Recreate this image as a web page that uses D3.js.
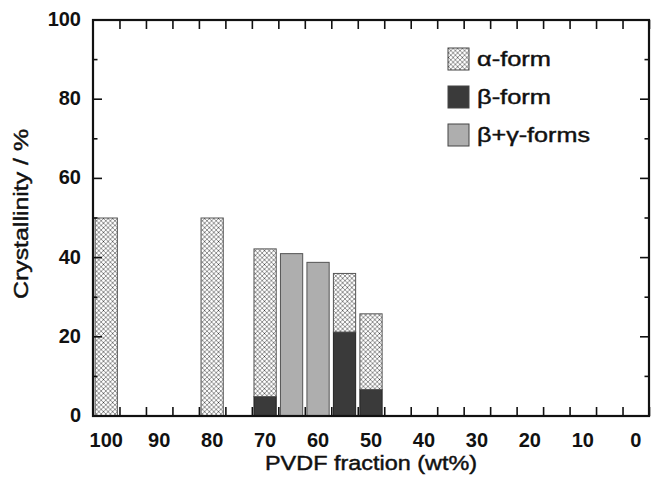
<!DOCTYPE html>
<html>
<head>
<meta charset="utf-8">
<script src="https://cdn.jsdelivr.net/npm/d3@7/dist/d3.min.js"></script>
<style>
  html, body { margin: 0; padding: 0; background: #fff; }
  svg { display: block; font-family: "Liberation Sans", Arial, sans-serif; }
</style>
</head>
<body>
<svg id="chart" width="651" height="479"></svg>
<script>
// ---- data ----
const fractions = [100, 80, 70, 65, 60, 55, 50];          // PVDF fraction (wt%)
const alphaForm = [50, 50, 37.3, 0, 0, 14.8, 19.1];        // α-form part (stacked on top of β)
const betaForm = [0, 0, 4.9, 0, 0, 21.2, 6.7];             // β-form part
const betaGammaForms = [0, 0, 0, 41.0, 38.8, 0, 0];         // β+γ-forms
const xTickLabels = [100, 90, 80, 70, 60, 50, 40, 30, 20, 10, 0];
const yTickLabels = [0, 20, 40, 60, 80, 100];
const seriesNames = ["α-form", "β-form", "β+γ-forms"];

(function () {
const svg = d3.select("#chart");
const mL = 93, mR = 649, mT = 20, mB = 416;
const x = d3.scaleLinear().domain([102.5, -2.5]).range([mL, mR]);
const y = d3.scaleLinear().domain([0, 100]).range([mB, mT]);
const barW = 4.2; // in data units

const defs = svg.append("defs");
const P = 4.6;
const pat = defs.append("pattern").attr("id", "hatch")
  .attr("patternUnits", "userSpaceOnUse").attr("width", P).attr("height", P);
pat.append("rect").attr("width", P).attr("height", P).attr("fill", "#fff");
pat.append("path").attr("d", `M0,0L${P},${P}M${P},0L0,${P}`)
  .attr("stroke", "#4a4a4a").attr("stroke-width", 0.6);
pat.append("circle").attr("cx", P / 2).attr("cy", P / 2).attr("r", 0.6).attr("fill", "#333");

const rows = fractions.map((f, i) => ({ f, beta: betaForm[i], bg: betaGammaForms[i], alpha: alphaForm[i] }));
const stack = d3.stack().keys(["beta", "bg", "alpha"])(rows);
const fills = { beta: "#3a3a3a", bg: "#aeaeae", alpha: "url(#hatch)" };
const strokes = { beta: "#222", bg: "#555", alpha: "#555" };

stack.forEach(layer => {
  svg.append("g").selectAll("rect")
    .data(layer.filter(d => d[1] - d[0] > 0))
    .join("rect")
    .attr("x", d => x(d.data.f + barW / 2))
    .attr("width", d => x(d.data.f - barW / 2) - x(d.data.f + barW / 2))
    .attr("y", d => y(d[1]))
    .attr("height", d => y(d[0]) - y(d[1]))
    .attr("fill", fills[layer.key])
    .attr("stroke", strokes[layer.key])
    .attr("stroke-width", 1);
});

const tickVals = d3.range(0, 21).map(i => 97.5 - 5 * i);
const axisCol = "#111";
svg.append("g").attr("transform", `translate(0,${mB})`)
  .call(d3.axisBottom(x).tickValues(tickVals).tickSize(-9).tickFormat(""))
  .call(g => g.select(".domain").remove())
  .call(g => g.selectAll("line").attr("stroke", axisCol).attr("stroke-width", 1.6));
svg.append("g").attr("transform", `translate(0,${mT})`)
  .call(d3.axisTop(x).tickValues(tickVals).tickSize(-9).tickFormat(""))
  .call(g => g.select(".domain").remove())
  .call(g => g.selectAll("line").attr("stroke", axisCol).attr("stroke-width", 1.6));
const yMinor = d3.range(10, 100, 20);
[[mL, 1], [mR, -1]].forEach(([px, dir]) => {
  const g = svg.append("g");
  g.selectAll(".maj").data(yTickLabels).join("line")
    .attr("x1", px).attr("x2", px + dir * 9)
    .attr("y1", d => y(d)).attr("y2", d => y(d))
    .attr("stroke", axisCol).attr("stroke-width", 1.6);
  g.selectAll(".min").data(yMinor).join("line")
    .attr("x1", px).attr("x2", px + dir * 4.5)
    .attr("y1", d => y(d)).attr("y2", d => y(d))
    .attr("stroke", axisCol).attr("stroke-width", 1.6);
});

svg.append("rect").attr("x", mL).attr("y", mT)
  .attr("width", mR - mL).attr("height", mB - mT)
  .attr("fill", "none").attr("stroke", axisCol).attr("stroke-width", 2.2);

svg.append("g").selectAll("text").data(xTickLabels).join("text")
  .attr("x", d => x(d)).attr("y", 447)
  .attr("text-anchor", "middle").attr("font-size", 20).attr("font-weight", "bold")
  .attr("fill", "#111").text(d => d);
svg.append("g").selectAll("text").data(yTickLabels).join("text")
  .attr("x", 81).attr("y", d => y(d) + 6)
  .attr("text-anchor", "end").attr("font-size", 20).attr("font-weight", "bold")
  .attr("fill", "#111").text(d => d);

const heavy = sel => sel.attr("fill", "#111").attr("stroke", "#111").attr("stroke-width", 0.45);
svg.append("text").attr("x", 371).attr("y", 470)
  .attr("text-anchor", "middle").attr("font-size", 20.5)
  .attr("textLength", 212).attr("lengthAdjust", "spacingAndGlyphs")
  .call(heavy)
  .text("PVDF fraction (wt%)");
svg.append("text")
  .attr("transform", "translate(28,214) rotate(-90)")
  .attr("text-anchor", "middle").attr("font-size", 20.5)
  .attr("textLength", 170).attr("lengthAdjust", "spacingAndGlyphs")
  .call(heavy)
  .text("Crystallinity / %");

const legFills = ["url(#hatch)", "#3a3a3a", "#aeaeae"];
const legLens = [74, 74, 113];
const leg = svg.append("g");
seriesNames.forEach((name, i) => {
  const yy = 48 + i * 38;
  leg.append("rect").attr("x", 448).attr("y", yy).attr("width", 21).attr("height", 22)
    .attr("fill", legFills[i]).attr("stroke", "#444").attr("stroke-width", 1);
  leg.append("text").attr("x", 477).attr("y", yy + 18)
    .attr("font-size", 21)
    .attr("textLength", legLens[i]).attr("lengthAdjust", "spacingAndGlyphs")
    .call(heavy)
    .text(name);
});
})();
</script>
</body>
</html>
